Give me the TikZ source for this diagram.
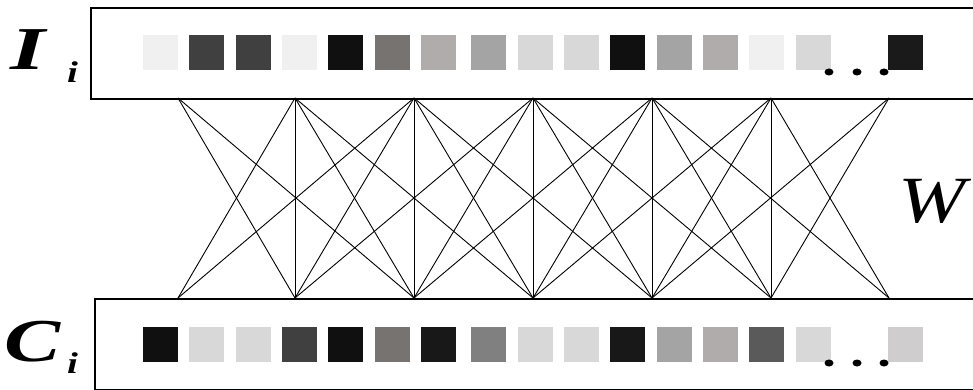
\documentclass[tikz,border=0pt]{standalone}
\usepackage{fontspec}
\usetikzlibrary{shapes.geometric}
\setmainfont{Liberation Serif}
\definecolor{gA}{HTML}{F0F0F0}
\definecolor{gB}{HTML}{404040}
\definecolor{gC}{HTML}{101010}
\definecolor{gD}{HTML}{777370}
\definecolor{gE}{HTML}{B0ACAB}
\definecolor{gF}{HTML}{A4A4A4}
\definecolor{gG}{HTML}{D8D8D8}
\definecolor{gH}{HTML}{1A1A1A}
\definecolor{gI}{HTML}{181818}
\definecolor{gJ}{HTML}{808080}
\definecolor{gK}{HTML}{5A5A5A}
\definecolor{gL}{HTML}{CFCDCD}
\begin{document}
\begin{tikzpicture}[x=1pt,y=-1pt,
  layerbox/.style={draw=black,line width=2.2pt,inner sep=0pt,anchor=north west,minimum height=91pt,minimum width=890pt},
  cell/.style={inner sep=0pt,minimum size=35pt,anchor=north west},
  dot/.style={fill=black,ellipse,inner sep=0pt,minimum width=9pt,minimum height=7pt},
  link/.style={draw=black,line width=0.9pt},
  bigletter/.style={inner sep=0pt,anchor=base west,font=\bfseries\itshape\fontsize{58}{58}\selectfont},
  subletter/.style={inner sep=0pt,anchor=base west,font=\bfseries\itshape\fontsize{30}{30}\selectfont}]
\useasboundingbox (0,0) rectangle (973,390);
% boxes
\node[layerbox] (topbox) at (90,7) {};
\node[layerbox] (botbox) at (94,298) {};
% squares top
\foreach \x/\c [count=\k] in {143/gA,189/gB,236/gB,282/gA,328/gC,375/gD,421/gE,471/gF,518/gG,564/gG,610/gC,657/gF,703/gE,749/gA,796/gG,888/gH}
  \node[cell,fill=\c] (ts\k) at (\x,35) {};
\foreach \x/\c [count=\k] in {143/gC,189/gG,236/gG,282/gB,328/gC,375/gD,421/gI,471/gJ,518/gG,564/gG,610/gI,657/gF,703/gE,749/gK,796/gG,888/gL}
  \node[cell,fill=\c] (bs\k) at (\x,327) {};
% dots
\foreach \x [count=\k] in {829,857,884} {
  \node[dot] (td\k) at (\x,72) {};
  \node[dot] (bd\k) at (\x,363) {};
}
% connection points
\foreach \x [count=\k] in {178,295,414,533,652,771,889} {
  \coordinate (t\k) at (\x,98);
  \coordinate (b\k) at (\x,298);
}
% connections
\foreach \i in {1,...,7} {
  \foreach \j in {1,...,7} {
    \pgfmathtruncatemacro{\d}{abs(\i-\j)}
    \pgfmathtruncatemacro{\ok}{(\d<=2) && !((\d==0) && ((\i==1) || (\i==7)))}
    \ifnum\ok=1 \draw[link] (t\i) -- (b\j); \fi
  }
}
% labels
\node[bigletter] (Ilab) at (10,70) {\scalebox{1.55}[1.05]{I}};
\node[subletter] (Isub) at (67,83) {\scalebox{1.3}[1]{i}};
\node[bigletter] (Clab) at (4,361) {\scalebox{1.45}[1.05]{C}};
\node[subletter] (Csub) at (67,373) {\scalebox{1.3}[1]{i}};
\node[inner sep=0pt,anchor=base west,font=\itshape\fontsize{66}{66}\selectfont] (Wlab) at (898,222) {\scalebox{1.22}[1]{W}};
\end{tikzpicture}
\end{document}
